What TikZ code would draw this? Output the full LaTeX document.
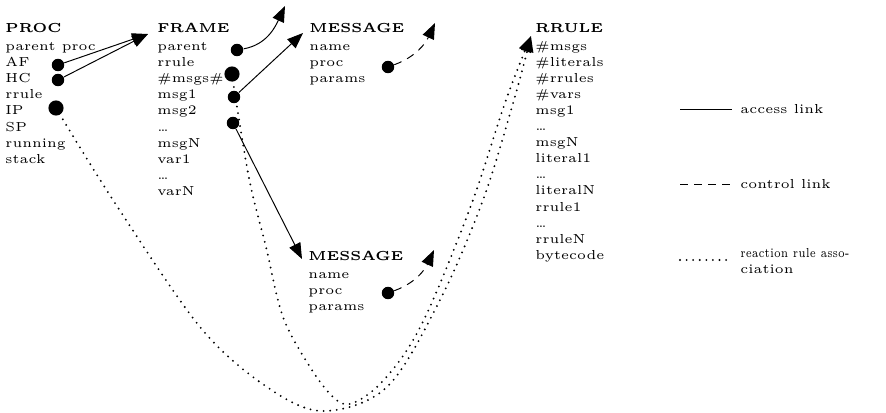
\documentclass[tikz,border=0pt]{standalone}
\usepackage{fontspec}
\usepackage{graphicx}
\newfontfamily\lmfive{lmroman5-regular.otf}
\newfontfamily\lmfivebf{lmroman5-bold.otf}
\usetikzlibrary{arrows.meta}
\begin{document}
\begin{tikzpicture}[x=0.41pt,y=0.41pt,
 lbl/.style={anchor=base west, inner sep=0pt, font=\lmfive\fontsize{5.35}{6.4}\selectfont},
 hdr/.style={anchor=base west, inner sep=0pt, font=\lmfivebf\fontsize{5.35}{6.4}\selectfont},
 dotsm/.style={circle, fill, inner sep=0pt, minimum size=5.1pt},
 dotbig/.style={circle, fill, inner sep=0pt, minimum size=6.2pt},
 tip/.style={-{Triangle[length=6.5pt,width=5pt]}},
 access/.style={line width=0.4pt},
 control/.style={line width=0.4pt, dash pattern=on 3.2pt off 2.6pt},
 assoc/.style={line width=0.85pt, line cap=round, dash pattern=on 0pt off 2.7pt}]
\useasboundingbox (0,0) rectangle (886,-413);

% PROC
\node[hdr] (proc) at (5,-32) {PROC};
\foreach \t [count=\i] in {parent proc, AF, HC, rrule, IP, SP, running, stack}
  \node[lbl] (p\i) at (5,{-50-16.2*(\i-1)}) {\t};

% FRAME
\node[hdr] (frame) at (157,-32) {FRAME};
\foreach \t [count=\i] in {parent, rrule, \#msgs\#, msg1, msg2, \dots, msgN, var1, \dots, varN}
  \node[lbl] (f\i) at (157,{-50-16.2*(\i-1)}) {\t};

% MESSAGE top
\node[hdr] (msgA) at (309,-32) {MESSAGE};
\foreach \t [count=\i] in {name, proc, params}
  \node[lbl] (ma\i) at (309,{-50-16.2*(\i-1)}) {\t};

% MESSAGE bottom
\node[hdr] (msgB) at (308,-260) {MESSAGE};
\foreach \t [count=\i] in {name, proc, params}
  \node[lbl] (mb\i) at (308,{-278-16.2*(\i-1)}) {\t};

% RRULE
\node[hdr] (rrule) at (535,-32) {RRULE};
\foreach \t [count=\i] in {\#msgs, \#literals, \#rrules, \#vars, msg1, \dots, msgN, literal1, \dots, literalN, rrule1, \dots, rruleN, bytecode}
  \node[lbl] (r\i) at (535,{-50-16.1*(\i-1)}) {\t};

% dots
\node[dotsm] (dAF) at (58,-65) {};
\node[dotsm] (dHC) at (58,-80) {};
\node[dotbig] (dIP) at (56,-108) {};
\node[dotsm] (dFp) at (237,-50) {};
\node[dotbig] (dFm) at (232,-74) {};
\node[dotsm] (dF1) at (234,-97) {};
\node[dotsm] (dF2) at (233,-123) {};
\node[dotsm] (dM1) at (388,-67) {};
\node[dotsm] (dM2) at (388,-293) {};

% arrow tips
\coordinate (tProc) at (148,-34);
\coordinate (tFp) at (285,-6);
\coordinate (tMsgTop) at (303,-33);
\coordinate (tMsgBot) at (302,-259);
\coordinate (tCtl1) at (435,-23);
\coordinate (tCtl2) at (434,-250);
\coordinate (tRR) at (531,-36);

% access links
\draw[access,tip] (dAF) -- (tProc);
\draw[access,tip] (dHC) -- (tProc);
\draw[access,tip] (dFp) to[out=10,in=-115] (tFp);
\draw[access,tip] (dF1) -- (tMsgTop);
\draw[access,tip] (dF2) -- (tMsgBot);

% control links
\draw[control,tip] (dM1) to[out=20,in=-115] (tCtl1);
\draw[control,tip] (dM2) to[out=20,in=-115] (tCtl2);

% reaction rule associations
\draw[assoc,tip] plot[smooth,tension=0.55] coordinates {(dIP) (113,-200) (200,-327) (267,-387) (323,-411) (387,-387) (440,-300) (483,-200) (514,-100) (tRR)};
\draw[assoc,tip] plot[smooth,tension=0.55] coordinates {(dFm) (237,-107) (250,-183) (266,-247) (283,-317) (310,-367) (333,-397) (350,-404) (377,-387) (407,-350) (433,-300) (473,-200) (506,-100) (tRR)};

% legend
\coordinate (la1) at (680,-109); \coordinate (la2) at (732,-109);
\draw[access] (la1) -- (la2);
\node[lbl] (lacc) at (740,-113) {access link};
\coordinate (lc1) at (680,-184); \coordinate (lc2) at (732,-184);
\draw[control] (lc1) -- (lc2);
\node[lbl] (lctl) at (740,-188) {control link};
\coordinate (ls1) at (680,-260); \coordinate (ls2) at (732,-260);
\draw[assoc] (ls1) -- (ls2);
\node[lbl] (lass) at (740,-257) {\scalebox{0.76}[1]{reaction rule asso-}};
\node[lbl] (lass2) at (740,-273) {ciation};
\end{tikzpicture}
\end{document}
